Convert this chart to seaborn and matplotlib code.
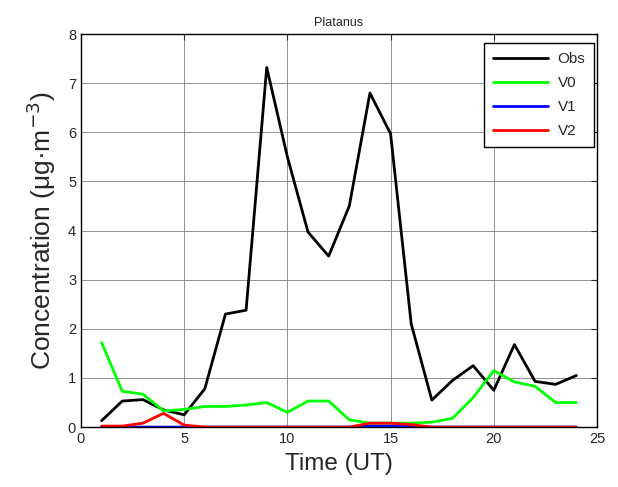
import numpy as np
import pandas as pd
import matplotlib
matplotlib.use('Agg')
import matplotlib.pyplot as plt
import seaborn as sns

# data
hours = list(range(1, 25))
obs = [0.13, 0.53, 0.56, 0.35, 0.25, 0.78, 2.30, 2.38, 7.32, 5.50, 3.97, 3.48,
       4.50, 6.80, 5.97, 2.10, 0.55, 0.95, 1.25, 0.75, 1.68, 0.93, 0.87, 1.05]
v0 = [1.72, 0.73, 0.67, 0.33, 0.36, 0.42, 0.42, 0.45, 0.50, 0.30, 0.53, 0.53,
      0.15, 0.08, 0.08, 0.08, 0.10, 0.18, 0.60, 1.15, 0.92, 0.83, 0.50, 0.50]
v1 = [0.0, 0.0, 0.0, 0.0, 0.0, 0.0, 0.0, 0.0, 0.0, 0.0, 0.0, 0.0,
      0.0, 0.02, 0.02, 0.01, 0.0, 0.0, 0.0, 0.0, 0.0, 0.0, 0.0, 0.0]
v2 = [0.02, 0.02, 0.08, 0.28, 0.04, 0.0, 0.0, 0.0, 0.0, 0.0, 0.0, 0.0,
      0.0, 0.08, 0.08, 0.05, 0.0, 0.0, 0.0, 0.0, 0.0, 0.0, 0.0, 0.0]

series_names = ['Obs', 'V0', 'V1', 'V2']
colors = ['black', '#00ff00', '#0000ff', '#ff0000']

df = pd.DataFrame({'Time': hours, 'Obs': obs, 'V0': v0, 'V1': v1, 'V2': v2})
long = df.melt(id_vars='Time', var_name='Series', value_name='Conc')

sns.set_style('white')
plt.rcParams['font.family'] = ['Liberation Sans', 'DejaVu Sans']

fig = plt.figure(figsize=(6.18, 4.87), dpi=100)
ax = fig.add_axes([0.131, 0.123, 0.835, 0.807])

sns.lineplot(data=long, x='Time', y='Conc', hue='Series', hue_order=series_names,
             palette=colors, linewidth=2, ax=ax)

ax.set_xlim(0, 25)
ax.set_ylim(0, 8)
ax.set_xticks([0, 5, 10, 15, 20, 25])
ax.set_yticks(range(0, 9))
ax.grid(True, color='#808080', linewidth=0.6)
ax.tick_params(direction='in', labelsize=10.5, length=4, top=True, right=True)
for s in ax.spines.values():
    s.set_color('black')
    s.set_linewidth(1)

ax.set_title('Platanus', fontsize=9)
ax.set_xlabel('Time (UT)', fontsize=17.5, labelpad=5)
ax.set_ylabel('Concentration (\u03bcg\u00b7m$^{-3}$)', fontsize=19, labelpad=7)

leg = ax.legend(loc='upper right', bbox_to_anchor=(0.995, 0.977), borderaxespad=0,
                fontsize=11, frameon=True, fancybox=False, handlelength=3.6,
                labelspacing=0.65, handletextpad=0.6, borderpad=0.6)
leg.get_frame().set_edgecolor('black')
leg.get_frame().set_linewidth(1)
leg.get_frame().set_alpha(1)

fig.savefig('out.png', dpi=100)
